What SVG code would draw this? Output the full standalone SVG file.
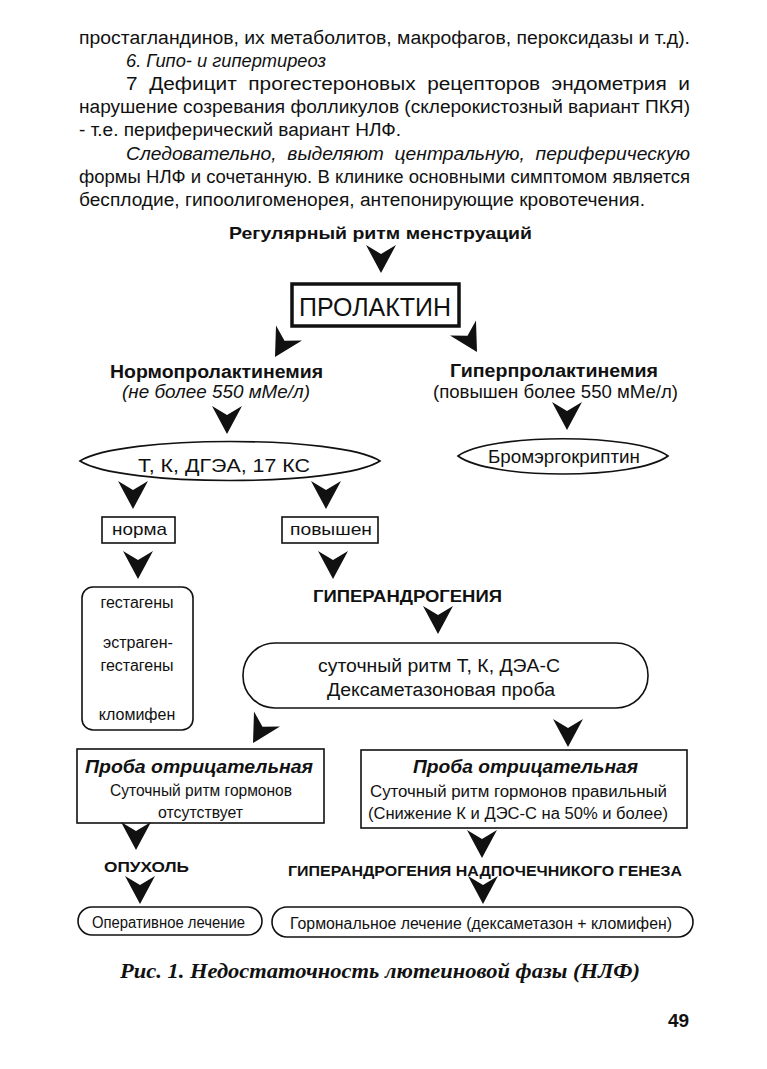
<svg xmlns="http://www.w3.org/2000/svg" xmlns:xlink="http://www.w3.org/1999/xlink" width="767" height="1069" viewBox="0 0 767 1069">
<style>
text{font-family:"Liberation Sans",Arial,sans-serif;fill:#111}
.i{font-style:italic}
.b{font-weight:bold}
.bi{font-weight:bold;font-style:italic}
.shape{fill:none;stroke:#111;stroke-width:1.6}
.cap{font-family:"Liberation Serif","Times New Roman",serif;font-weight:bold;font-style:italic;font-size:20px}
.arr{fill:#111}
</style>
<defs>
<path id="chev" d="M-15,-14 L0,-5 L15,-14 L0,14 Z"/>
</defs>
<rect width="767" height="1069" fill="#fff"/>

<g id="paragraph">
<text x="79" y="44" font-size="18" textLength="611" lengthAdjust="spacingAndGlyphs">простагландинов, их метаболитов, макрофагов, пероксидазы и т.д).</text>
<text x="126" y="67" font-size="18" font-style="italic" textLength="200" lengthAdjust="spacingAndGlyphs">6. Гипо- и гипертиреоз</text>
<text x="126" y="90" font-size="18" word-spacing="5" textLength="564" lengthAdjust="spacingAndGlyphs">7 Дефицит прогестероновых рецепторов эндометрия и</text>
<text x="79" y="113" font-size="18" textLength="611" lengthAdjust="spacingAndGlyphs">нарушение созревания фолликулов (склерокистозный вариант ПКЯ)</text>
<text x="79" y="136" font-size="18" textLength="322" lengthAdjust="spacingAndGlyphs">- т.е. периферический  вариант НЛФ.</text>
<text x="126" y="160" font-size="18" font-style="italic" word-spacing="5" textLength="564" lengthAdjust="spacingAndGlyphs">Следовательно, выделяют центральную, периферическую</text>
<text x="79" y="183" font-size="18" textLength="611" lengthAdjust="spacingAndGlyphs">формы НЛФ и сочетанную. В клинике основными симптомом является</text>
<text x="79" y="206" font-size="18" textLength="566" lengthAdjust="spacingAndGlyphs">бесплодие, гипоолигоменорея, антепонирующие кровотечения.</text>
</g>

<g id="n-regular">
<text x="229" y="239" class="b" font-size="17" textLength="303" lengthAdjust="spacingAndGlyphs">Регулярный ритм менструаций</text>
</g>

<g id="n-prolactin">
<rect x="292" y="284" width="167" height="42" fill="none" stroke="#111" stroke-width="3.5"/>
<text x="299" y="316" font-size="26" textLength="152" lengthAdjust="spacingAndGlyphs">ПРОЛАКТИН</text>
</g>

<g id="n-normo">
<text x="110" y="378" class="b" font-size="18" textLength="213" lengthAdjust="spacingAndGlyphs">Нормопролактинемия</text>
<text x="122" y="398" class="i" font-size="18" textLength="188" lengthAdjust="spacingAndGlyphs">(не более 550 мМе/л)</text>
</g>

<g id="n-hyper">
<text x="450" y="377" class="b" font-size="18" textLength="208" lengthAdjust="spacingAndGlyphs">Гиперпролактинемия</text>
<text x="433" y="398" font-size="18" textLength="245" lengthAdjust="spacingAndGlyphs">(повышен более 550 мМе/л)</text>
</g>

<g id="n-tests">
<path class="shape" d="M80,461 C120,435 340,435 380,461 C340,487 120,487 80,461 Z"/>
<text x="138" y="472" font-size="19" textLength="172" lengthAdjust="spacingAndGlyphs">Т, К, ДГЭА,  17 КС</text>
</g>

<g id="n-bromo">
<path class="shape" d="M458,456 C490,433 636,433 668,456 C636,480 490,480 458,456 Z"/>
<text x="488" y="463" font-size="18" textLength="152" lengthAdjust="spacingAndGlyphs">Бромэргокриптин</text>
</g>

<g id="n-norma">
<rect class="shape" x="102" y="517" width="73" height="26"/>
<text x="112" y="535" font-size="17" textLength="55" lengthAdjust="spacingAndGlyphs">норма</text>
</g>

<g id="n-povyshen">
<rect class="shape" x="282" y="517" width="96" height="26"/>
<text x="290" y="535" font-size="17" textLength="82" lengthAdjust="spacingAndGlyphs">повышен</text>
</g>

<g id="n-treat-left">
<rect class="shape" x="82" y="587" width="111" height="143" rx="11"/>
<text x="137" y="608" font-size="16" text-anchor="middle">гестагены</text>
<text x="138" y="648" font-size="16" text-anchor="middle">эстраген-</text>
<text x="137" y="671" font-size="16" text-anchor="middle">гестагены</text>
<text x="137" y="720" font-size="16" text-anchor="middle">кломифен</text>
</g>

<g id="n-hyperandro">
<text x="313" y="602" class="b" font-size="16" textLength="189" lengthAdjust="spacingAndGlyphs">ГИПЕРАНДРОГЕНИЯ</text>
</g>

<g id="n-rhythm">
<rect class="shape" x="243" y="643" width="405" height="65" rx="32" ry="32"/>
<text x="318" y="672" font-size="18" textLength="242" lengthAdjust="spacingAndGlyphs">суточный ритм Т, К, ДЭА-С</text>
<text x="327" y="696" font-size="18" textLength="228" lengthAdjust="spacingAndGlyphs">Дексаметазоновая проба</text>
</g>

<g id="n-neg-left">
<rect class="shape" x="77" y="749" width="247" height="74"/>
<text x="85" y="773" class="bi" font-size="18" textLength="228" lengthAdjust="spacingAndGlyphs">Проба отрицательная</text>
<text x="110" y="796" font-size="16" textLength="182" lengthAdjust="spacingAndGlyphs">Суточный ритм гормонов</text>
<text x="158" y="818" font-size="16" textLength="85" lengthAdjust="spacingAndGlyphs">отсутствует</text>
</g>

<g id="n-neg-right">
<rect class="shape" x="361" y="750" width="326" height="78"/>
<text x="413" y="773" class="bi" font-size="18" textLength="225" lengthAdjust="spacingAndGlyphs">Проба отрицательная</text>
<text x="370" y="797" font-size="16" textLength="297" lengthAdjust="spacingAndGlyphs">Суточный ритм гормонов правильный</text>
<text x="368" y="819" font-size="16" textLength="300" lengthAdjust="spacingAndGlyphs">(Снижение К и ДЭС-С на 50% и более)</text>
</g>

<g id="n-tumor">
<text x="104" y="872" class="b" font-size="15" textLength="85" lengthAdjust="spacingAndGlyphs">ОПУХОЛЬ</text>
</g>

<g id="n-adrenal">
<text x="288" y="876" class="b" font-size="15" textLength="394" lengthAdjust="spacingAndGlyphs">ГИПЕРАНДРОГЕНИЯ НАДПОЧЕЧНИКОГО ГЕНЕЗА</text>
</g>

<g id="n-surgery">
<rect class="shape" x="78" y="907" width="184" height="28" rx="14" ry="14"/>
<text x="92" y="928" font-size="16" textLength="153" lengthAdjust="spacingAndGlyphs">Оперативное лечение</text>
</g>

<g id="n-hormonal">
<rect class="shape" x="272" y="907" width="421" height="30" rx="15" ry="15"/>
<text x="290" y="929" font-size="16" textLength="382" lengthAdjust="spacingAndGlyphs">Гормональное лечение (дексаметазон  + кломифен)</text>
</g>

<g id="connectors" class="arr">
<use xlink:href="#chev" transform="translate(381,259)"/>
<use xlink:href="#chev" transform="translate(282,345) rotate(30)"/>
<use xlink:href="#chev" transform="translate(470,340) rotate(-30)"/>
<use xlink:href="#chev" transform="translate(227,420)"/>
<use xlink:href="#chev" transform="translate(567,416)"/>
<use xlink:href="#chev" transform="translate(133,495)"/>
<use xlink:href="#chev" transform="translate(326,495)"/>
<use xlink:href="#chev" transform="translate(138,565)"/>
<use xlink:href="#chev" transform="translate(333,565)"/>
<use xlink:href="#chev" transform="translate(438,620)"/>
<use xlink:href="#chev" transform="translate(260,731) rotate(30)"/>
<use xlink:href="#chev" transform="translate(568,733)"/>
<use xlink:href="#chev" transform="translate(136,836)"/>
<use xlink:href="#chev" transform="translate(140,890)"/>
<use xlink:href="#chev" transform="translate(482,844)"/>
<use xlink:href="#chev" transform="translate(483,890)"/>
</g>

<g id="caption">
<text x="120" y="978" class="cap" textLength="520" lengthAdjust="spacingAndGlyphs">Рис. 1. Недостаточность лютеиновой фазы (НЛФ)</text>
<text x="668" y="1027" class="b" font-size="19">49</text>
</g>
</svg>
